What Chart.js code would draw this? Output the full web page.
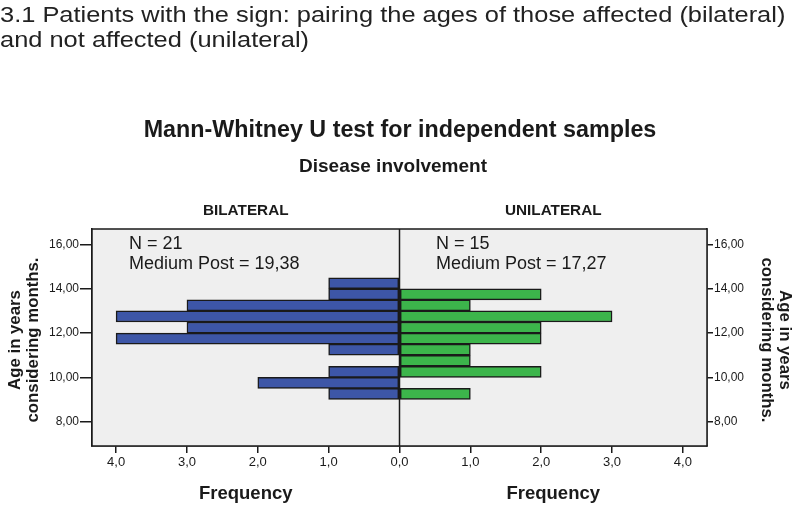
<!DOCTYPE html>
<html>
<head>
<meta charset="utf-8">
<script src="https://cdn.jsdelivr.net/npm/chart.js@4.4.1/dist/chart.umd.min.js"></script>
<style>
  html, body { margin: 0; padding: 0; background: #fff; }
  #wrap { position: relative; width: 800px; height: 506px; }
</style>
</head>
<body>
<div id="wrap"><canvas id="chart" width="800" height="506"></canvas></div>
<script>
// Age bins (bin centres, 0.5-year bins) and frequency per group
const ageBins = [14.25, 13.75, 13.25, 12.75, 12.25, 11.75, 11.25, 10.75, 10.25, 9.75, 9.25];
const bilateralCounts = [1, 1, 3, 4, 3, 4, 1, 0, 1, 2, 1];
const unilateralCounts = [0, 2, 1, 3, 2, 2, 1, 1, 2, 0, 1];

// Axis ticks
const ageTicks = [8, 10, 12, 14, 16];
const freqTicks = [-4, -3, -2, -1, 0, 1, 2, 3, 4];

// Texts
const heading = [
    '3.1 Patients with the sign: pairing the ages of those affected (bilateral)',
    'and not affected (unilateral)'
];
const chartTitle = 'Mann-Whitney U test for independent samples';
const chartSubtitle = 'Disease involvement';
const groupNames = ['BILATERAL', 'UNILATERAL'];
const groupStats = [
    ['N = 21', 'Medium Post = 19,38'],
    ['N = 15', 'Medium Post = 17,27']
];
const yTitle = ['Age in years', 'considering months.'];
const xTitle = 'Frequency';

const BLUE = '#3d56a7';
const GREEN = '#3cb54b';
const INK = '#1a1a1a';
const SANS = '"Liberation Sans", Arial, sans-serif';

// build the {x, y} points; bilateral goes to the left (negative)
const toPoints = (counts, sign) => counts
    .map((c, i) => c ? { x: sign * c, y: ageBins[i] } : null)
    .filter(p => p);

const setTicks = (values) => (scale) => {
    scale.ticks = values.map(v => ({ value: v }));
};

// backgrounds, frame, centre line and all the loose text
const decor = {
    id: 'decor',
    beforeDatasetsDraw(chart) {
        const { ctx, chartArea: a } = chart;
        ctx.save();
        ctx.fillStyle = '#efefef';
        ctx.fillRect(a.left, a.top, a.right - a.left, a.bottom - a.top);
        ctx.restore();
    },
    afterDatasetsDraw(chart) {
        const { ctx, chartArea: a } = chart;
        const x0 = chart.scales.x.getPixelForValue(0);
        ctx.save();
        ctx.strokeStyle = INK;
        ctx.lineWidth = 1.5;
        ctx.beginPath();
        ctx.moveTo(x0, a.top);
        ctx.lineTo(x0, a.bottom);
        ctx.stroke();
        ctx.strokeRect(a.left, a.top, a.right - a.left, a.bottom - a.top);
        ctx.restore();
    },
    afterDraw(chart) {
        const { ctx, chartArea: a } = chart;
        const xs = chart.scales.x;
        const leftMid = (a.left + xs.getPixelForValue(0)) / 2;
        const rightMid = (xs.getPixelForValue(0) + a.right) / 2;
        ctx.save();

        // heading (the source text is a bit wider than Liberation Sans)
        ctx.save();
        ctx.textAlign = 'left';
        ctx.textBaseline = 'alphabetic';
        ctx.font = '22.5px ' + SANS;
        ctx.fillStyle = '#222';
        ctx.scale(1.13, 1);
        ctx.fillText(heading[0], 0, 22);
        ctx.fillText(heading[1], 0, 47);
        ctx.restore();

        ctx.fillStyle = INK;
        ctx.textBaseline = 'middle';

        // titles
        ctx.textAlign = 'center';
        ctx.font = 'bold 23.3px ' + SANS;
        ctx.fillText(chartTitle, 400, 131);
        ctx.font = 'bold 19px ' + SANS;
        ctx.fillText(chartSubtitle, 393, 167);
        ctx.font = 'bold 15.3px ' + SANS;
        ctx.fillText(groupNames[0], leftMid, 211);
        ctx.fillText(groupNames[1], rightMid, 211);

        // x titles
        ctx.font = 'bold 18.5px ' + SANS;
        ctx.fillText(xTitle, leftMid, 494);
        ctx.fillText(xTitle, rightMid, 494);

        // group stats inside the plot
        ctx.textAlign = 'left';
        ctx.font = '18px ' + SANS;
        ctx.fillText(groupStats[0][0], 129, 244);
        ctx.fillText(groupStats[0][1], 129, 264);
        ctx.fillText(groupStats[1][0], 436, 244);
        ctx.fillText(groupStats[1][1], 436, 264);

        // y titles, rotated on both sides
        const yMid = 340;
        ctx.textAlign = 'center';
        ctx.font = 'bold 16.8px ' + SANS;
        ctx.save();
        ctx.translate(24, yMid);
        ctx.rotate(-Math.PI / 2);
        ctx.fillText(yTitle[0], 0, -9);
        ctx.fillText(yTitle[1], 0, 9);
        ctx.restore();
        ctx.save();
        ctx.translate(776, yMid);
        ctx.rotate(Math.PI / 2);
        ctx.fillText(yTitle[0], 0, -9);
        ctx.fillText(yTitle[1], 0, 9);
        ctx.restore();

        ctx.restore();
    }
};

const barStyle = {
    borderColor: INK,
    borderWidth: 1.5,
    borderSkipped: false,
    barPercentage: 1,
    categoryPercentage: 1,
    grouped: false
};

const tickFont = { family: SANS, size: 13 };
const ageFont = { family: SANS, size: 12 };
const ageLabel = (v) => v.toFixed(2).replace('.', ',');

new Chart(document.getElementById('chart'), {
    type: 'bar',
    data: {
        datasets: [
            Object.assign({ label: groupNames[0], data: toPoints(bilateralCounts, -1), backgroundColor: BLUE }, barStyle),
            Object.assign({ label: groupNames[1], data: toPoints(unilateralCounts, 1), backgroundColor: GREEN }, barStyle)
        ]
    },
    options: {
        responsive: false,
        animation: false,
        indexAxis: 'y',
        layout: { padding: { top: 229, left: 0, right: 0, bottom: 0 } },
        plugins: {
            legend: { display: false },
            tooltip: { enabled: false }
        },
        scales: {
            x: {
                type: 'linear',
                min: -4.34,
                max: 4.34,
                afterBuildTicks: setTicks(freqTicks),
                afterFit: (s) => { s.height = 60; },
                grid: { drawOnChartArea: false, drawTicks: true, tickLength: 7, color: INK, lineWidth: 1.5 },
                border: { display: true, color: INK, width: 1.5 },
                ticks: {
                    color: INK,
                    font: tickFont,
                    padding: 2,
                    maxRotation: 0,
                    callback: (v) => Math.abs(v).toFixed(1).replace('.', ',')
                }
            },
            y: {
                type: 'linear',
                position: 'left',
                offset: false,
                min: 6.9,
                max: 16.7,
                afterBuildTicks: setTicks(ageTicks),
                afterFit: (s) => { s.width = 92; },
                grid: { offset: false, drawOnChartArea: false, drawTicks: true, tickLength: 12, color: INK, lineWidth: 1.5 },
                border: { display: true, color: INK, width: 1.5 },
                ticks: { color: INK, font: ageFont, padding: 1, callback: ageLabel }
            },
            y2: {
                type: 'linear',
                position: 'right',
                offset: false,
                min: 6.9,
                max: 16.7,
                afterBuildTicks: setTicks(ageTicks),
                afterFit: (s) => { s.width = 93; },
                grid: { offset: false, drawOnChartArea: false, drawTicks: true, tickLength: 6, color: INK, lineWidth: 1.5 },
                border: { display: true, color: INK, width: 1.5 },
                ticks: { color: INK, font: ageFont, padding: 1, callback: ageLabel }
            }
        }
    },
    plugins: [decor]
});
</script>
</body>
</html>
